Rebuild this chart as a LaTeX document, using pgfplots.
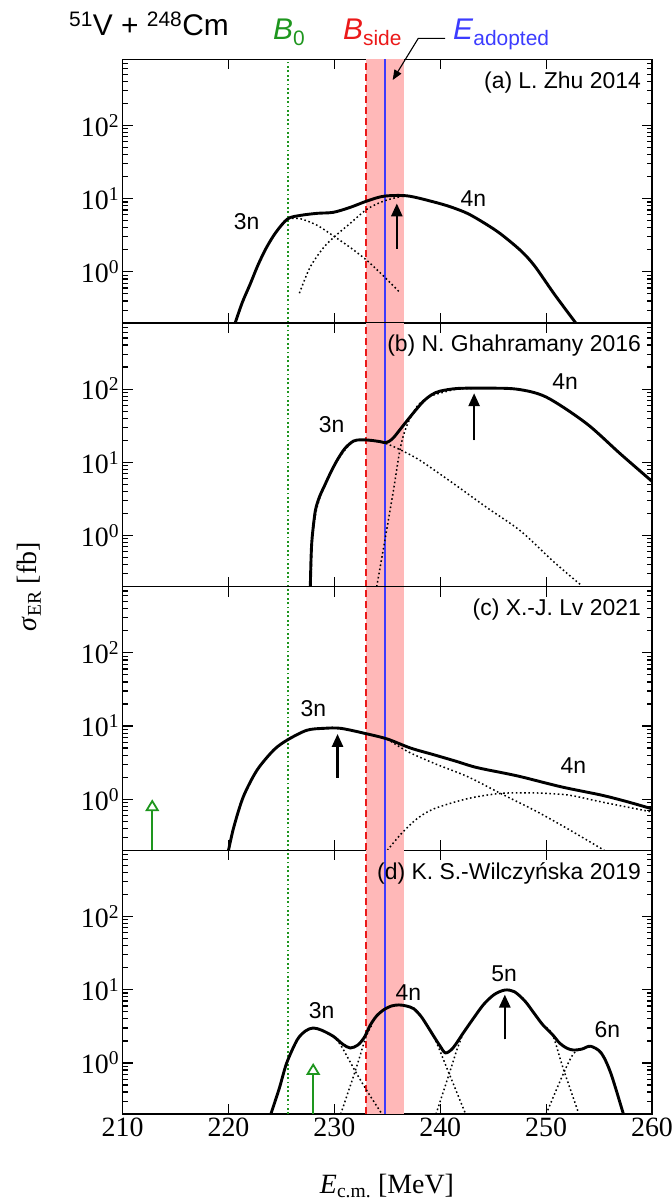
\documentclass[border=0pt]{standalone}
\usepackage{pgfplots}
\pgfplotsset{compat=1.18}
\usetikzlibrary{arrows.meta}
\usepackage{fontspec}
\setmainfont{Liberation Serif}
\newfontfamily\sansfont{Liberation Sans}

\definecolor{bandpink}{RGB}{255,184,184}
\definecolor{refgreen}{RGB}{30,150,30}
\definecolor{refred}{RGB}{235,25,25}
\definecolor{refblue}{RGB}{60,60,255}

\pgfplotsset{
  every axis/.append style={
    scale only axis, width=529.4bp, height=263.7bp,
    xmin=210, xmax=260, ymode=log, ymin=0.2, ymax=800,
    xtick={210,220,230,240,250,260},
    ytick={1,10,100},
    yticklabels={10\textsuperscript{0},10\textsuperscript{1},10\textsuperscript{2}},
    minor ytick={0.2,0.3,0.4,0.5,0.6,0.7,0.8,0.9,2,3,4,5,6,7,8,9,20,30,40,50,60,70,80,90,200,300,400,500,600,700,800},
    tick align=inside, xtick pos=both, ytick pos=both,
    major tick length=10bp, minor tick length=5.5bp,
    every tick/.style={black, line width=1.2bp},
    axis line style={line width=1.3bp},
    tick label style={font=\fontsize{28}{28}\selectfont},
  },
}
\tikzset{
  sumline/.style={draw=black, line width=2.9bp, smooth},
  compline/.style={draw=black, line width=1.5bp, dash pattern=on 1.6bp off 2.6bp, smooth},
  peakarrow/.style={draw=black, fill=black, line width=2.6bp, -{Triangle[length=13bp, width=11bp]}},
  greenarrow/.style={draw=refgreen, line width=2.2bp, -{Triangle[open, length=12bp, width=14bp, line width=1.8bp]}},
}

% reference energies (MeV): band 233.0--236.55, B0, Bside, Eadopted
\newcommand\reflines{%
  \addplot[draw=none, fill=bandpink] coordinates {(233.0,0.2) (236.55,0.2) (236.55,800) (233.0,800)};
  \addplot[color=refgreen, line width=1.8bp, dash pattern=on 1.8bp off 2.6bp] coordinates {(225.6,0.2) (225.6,800)};
  \addplot[color=refred, line width=1.8bp, dash pattern=on 7bp off 4bp] coordinates {(233.0,0.2) (233.0,800)};
  \addplot[color=refblue, line width=1.8bp] coordinates {(234.8,0.2) (234.8,800)};
}

\newcommand\nlab[3]{\node[font=\sansfont\fontsize{23}{23}\selectfont, inner sep=0] at (#1bp,-#2bp) {#3};}
\newcommand\plab[2]{\node[font=\sansfont\fontsize{23}{23}\selectfont, inner sep=0, anchor=base east] at (641bp,-#1bp) {#2};}

\begin{document}
\begin{tikzpicture}

% (a) L. Zhu 2014
\begin{axis}[at={(122.6bp,-59.3bp)}, anchor=north west, xticklabels={}]
\reflines
\addplot[compline] coordinates {(225.6,5.3) (226.8,5.3) (228.4,4.3) (229.9,3.1) (231.5,2.15) (233.1,1.42) (234.7,0.86) (236.2,0.52)};
\addplot[compline] coordinates {(226.7,0.51) (227.7,1.15) (229.0,2.16) (230.1,3.1) (231.5,4.6) (233.1,7.2) (234.7,9.3) (236.2,10.6) (236.9,10.9)};
\addplot[sumline] coordinates {(220.63,0.2) (221.3,0.38) (222.05,0.68) (222.8,1.25) (223.6,2.16) (224.5,3.5) (225.6,5.3) (226.8,5.9) (228.4,6.3) (229.9,6.5) (231.5,7.6) (233.1,9.3) (234.7,10.8) (236.9,10.9) (239.4,9.0) (241.0,7.7) (242.6,6.25) (244.2,4.6) (245.7,3.3) (247.6,1.95) (248.9,1.21) (250.8,0.49) (252.8,0.2)};
\addplot[peakarrow] coordinates {(235.9,2.06) (235.9,8.6)};
\end{axis}

% (b) N. Ghahramany 2016
\begin{axis}[at={(122.6bp,-323.0bp)}, anchor=north west, xticklabels={}]
\reflines
\addplot[compline] coordinates {(227.8,0.2) (227.9,0.8) (228.3,2.2) (229.0,4.5) (230.25,10.4) (231.8,19.3) (233.4,19.8) (234.8,18.2) (236.2,14.9) (238.1,10.6) (241.3,5.07) (244.4,2.41) (247.6,1.15) (250.7,0.44) (253.3,0.21)};
\addplot[compline] coordinates {(234.0,0.2) (234.8,0.91) (235.6,4.3) (236.2,14.9) (236.8,30.6) (237.8,57.8) (239.0,79) (240.6,93) (241.6,100) (243.0,102)};
\addplot[sumline] coordinates {(227.73,0.2) (227.8,0.5) (227.9,0.93) (228.2,2.17) (228.6,3.4) (229.0,4.55) (229.6,7.0) (230.25,10.6) (231.0,15.5) (231.8,19.5) (232.5,20.3) (233.4,20) (234.3,19.2) (234.8,18.6) (235.2,19.5) (235.6,21.8) (236.2,28) (236.8,36) (237.6,50) (238.4,68) (239.2,84) (240.0,94) (241.6,102) (244.0,103) (247.2,100) (250.0,78) (253.8,34) (257.0,13.1) (260.0,5.5)};
\addplot[peakarrow] coordinates {(243.2,20) (243.2,88)};
\end{axis}

% (c) X.-J. Lv 2021
\begin{axis}[at={(122.6bp,-586.7bp)}, anchor=north west, xticklabels={}]
\reflines
\addplot[compline] coordinates {(235.0,6.65) (236.9,4.5) (239.4,3.1) (242.6,2.03) (245.7,1.2) (248.9,0.705) (252.1,0.39) (255.5,0.2)};
\addplot[compline] coordinates {(235.0,0.2) (236.3,0.336) (237.8,0.54) (239.4,0.74) (242.6,1.02) (245.7,1.2) (248.9,1.22) (252.1,1.14) (255.2,0.92) (260.0,0.67)};
\addplot[sumline] coordinates {(220.0,0.2) (220.5,0.415) (221.4,1.08) (222.7,2.5) (224.3,4.74) (225.6,6.5) (227.4,8.75) (229.0,9.3) (230.6,9.3) (233.1,7.8) (235.0,6.65) (237.2,5.0) (239.4,4.05) (241.5,3.3) (243.5,2.7) (247.3,2.08) (251.4,1.48) (255.2,1.14) (257.6,0.93) (260.0,0.74)};
\addplot[peakarrow] coordinates {(230.3,1.97) (230.3,7.8)};
\addplot[greenarrow] coordinates {(212.8,0.2) (212.8,1.0)};
\end{axis}

% (d) K. S.-Wilczynska 2019
\begin{axis}[at={(122.6bp,-850.4bp)}, anchor=north west,
  xticklabels={210,220,230,240,250,260}]
\reflines
\addplot[compline] coordinates {(229.9,2.3) (230.6,1.75) (232.0,0.76) (233.2,0.39) (234.5,0.2)};
\addplot[compline] coordinates {(230.6,0.2) (232.0,0.8) (233.0,2.3) (233.5,3.2)};
\addplot[compline] coordinates {(238.8,3.17) (239.4,2.3) (240.9,0.68) (242.4,0.2)};
\addplot[compline] coordinates {(239.6,0.2) (240.9,0.75) (241.6,1.55) (242.2,2.6)};
\addplot[compline] coordinates {(249.7,3.3) (250.6,2.44) (251.6,0.85) (253.1,0.2)};
\addplot[compline] coordinates {(250.0,0.2) (251.6,0.7) (252.6,1.35) (253.4,1.55)};
\addplot[sumline] coordinates {(224.0,0.2) (224.8,0.45) (225.5,1.0) (226.5,2.08) (227.3,2.75) (228.0,3.0) (228.8,2.8) (229.9,2.31) (230.8,1.8) (231.5,1.6) (232.2,1.75) (232.8,2.2) (233.4,3.3) (234.0,4.4) (234.7,5.37) (235.4,6.0) (236.1,6.2) (236.8,6.0) (237.5,5.5) (238.2,4.3) (238.8,3.17) (239.4,2.3) (240.0,1.69) (240.5,1.37) (241.2,1.6) (242.2,2.6) (243.1,4.0) (244.1,6.3) (245.1,8.6) (246.1,9.9) (247.0,9.4) (248.0,7.0) (248.85,4.8) (249.7,3.3) (250.6,2.44) (251.3,1.85) (252.0,1.58) (252.6,1.5) (253.4,1.55) (254.2,1.69) (255.2,1.37) (256.1,0.73) (257.3,0.2)};
\addplot[peakarrow] coordinates {(246.1,2.1) (246.1,8.6)};
\addplot[greenarrow] coordinates {(228.0,0.2) (228.0,1.0)};
\end{axis}

% panel captions
\plab{88}{(a) L. Zhu 2014}
\plab{351.7}{(b) N. Ghahramany 2016}
\plab{615.4}{(c) X.-J. Lv 2021}
\plab{879.1}{(d) K. S.-Wilczyńska 2019}

% channel labels
\nlab{246.7}{221.7}{3n}
\nlab{473.3}{198.3}{4n}
\nlab{331.7}{425}{3n}
\nlab{565}{381.7}{4n}
\nlab{313.3}{708.3}{3n}
\nlab{573.3}{766}{4n}
\nlab{321.7}{1010.7}{3n}
\nlab{408.3}{992.7}{4n}
\nlab{504}{974}{5n}
\nlab{607.3}{1029.3}{6n}

% header
\node[anchor=base west, inner sep=0, font=\sansfont\fontsize{30}{30}\selectfont] at (69bp,-35bp) {\textsuperscript{51}V + \textsuperscript{248}Cm};
\node[anchor=base west, inner sep=0, text=refgreen, font=\sansfont\fontsize{30}{30}\selectfont] at (273bp,-39bp) {\textit{B}\textsubscript{0}};
\node[anchor=base west, inner sep=0, text=refred, font=\sansfont\fontsize{30}{30}\selectfont] at (343bp,-39bp) {\textit{B}\textsubscript{side}};
\node[anchor=base west, inner sep=0, text=refblue, font=\sansfont\fontsize{30}{30}\selectfont] at (453bp,-39bp) {\textit{E}\textsubscript{adopted}};
\draw[line width=1.1bp, -{Triangle[length=10bp, width=8bp]}] (445bp,-38.3bp) -- (418.3bp,-38.3bp) -- (392.7bp,-80bp);

% axis titles
\node[rotate=90, font=\fontsize{28}{28}\selectfont] at (29bp,-586.7bp) {\textit{σ}\textsubscript{ER} [fb]};
\node[font=\fontsize{28}{28}\selectfont] at (387bp,-1186bp) {\textit{E}\textsubscript{c.m.} [MeV]};

\pgfresetboundingbox
\path (0bp,0bp) rectangle (672bp,-1201bp);
\end{tikzpicture}
\end{document}
